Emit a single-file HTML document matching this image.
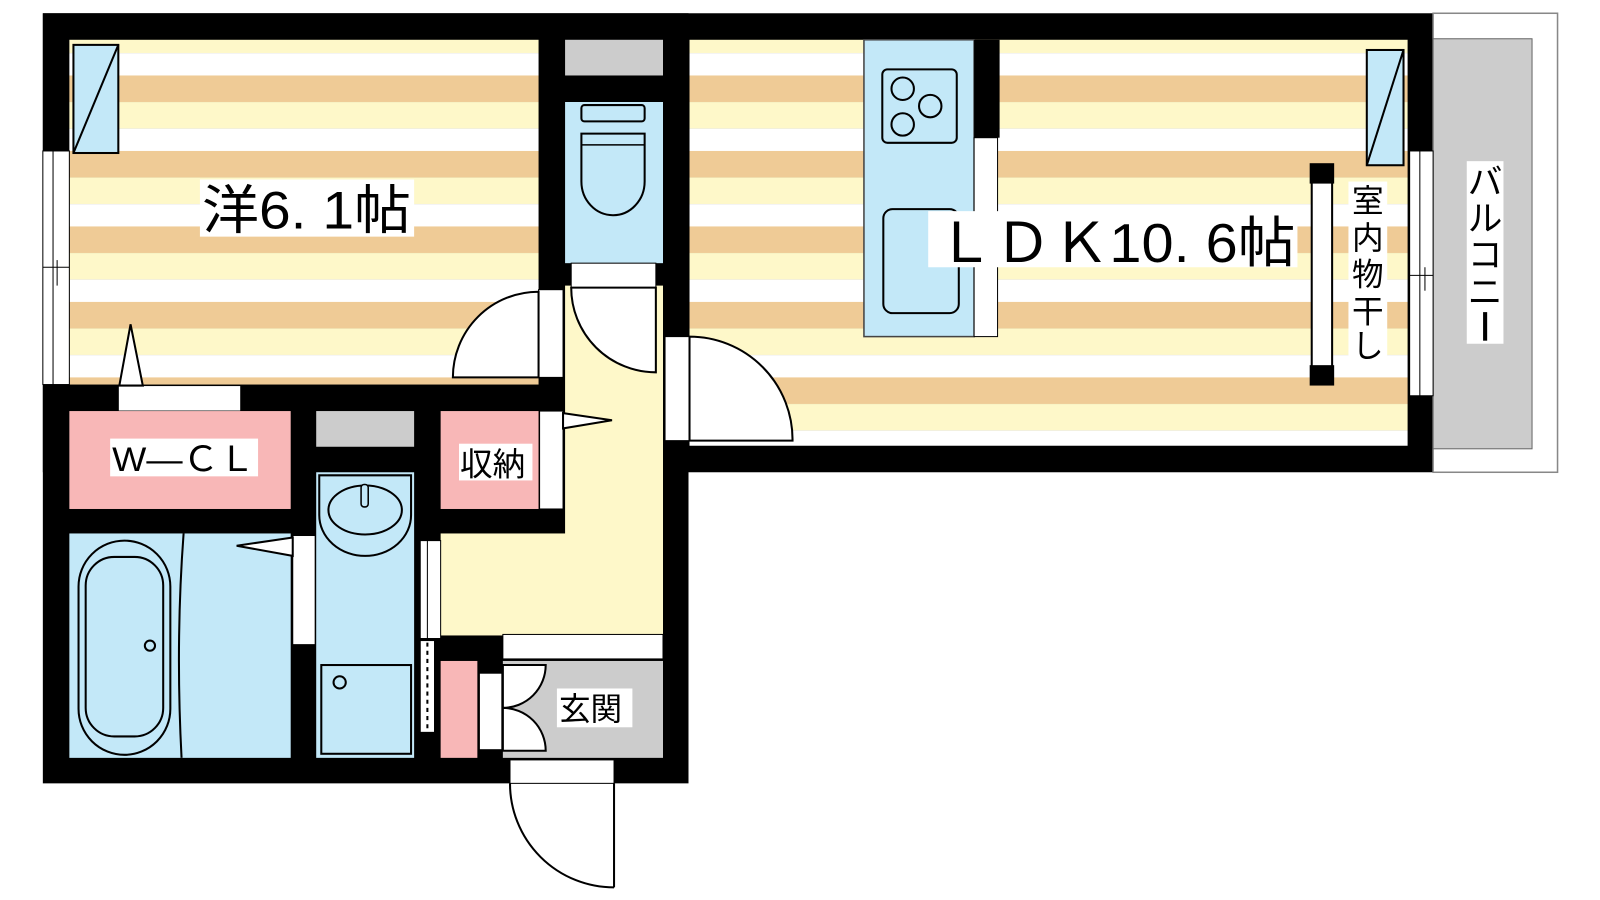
<!DOCTYPE html>
<html><head><meta charset="utf-8"><style>
html,body{margin:0;padding:0;background:#fff;width:1600px;height:900px;overflow:hidden}
svg{display:block}
text{font-family:"Liberation Sans","Noto Sans CJK JP",sans-serif;fill:#000}
</style></head><body>
<svg width="1600" height="900" viewBox="0 0 1600 900" xmlns="http://www.w3.org/2000/svg">
<defs>
<pattern id="st" x="0" y="0" width="10" height="74" patternUnits="userSpaceOnUse">
<rect x="0" y="0" width="10" height="26" fill="#efcb96"/>
<rect x="0" y="26" width="10" height="26" fill="#fef8c9"/>
<rect x="0" y="52" width="10" height="22" fill="#ffffff"/>
</pattern>
</defs>
<g transform="scale(1.02)">
<rect x="42" y="13" width="633" height="755" fill="#000"/>
<rect x="42" y="13" width="1363" height="450" fill="#000"/>
<rect x="1405" y="13" width="122" height="450" fill="#fff" stroke="#888" stroke-width="1.5"/>
<rect x="1405" y="38" width="97" height="402" fill="#cccccc" stroke="#666" stroke-width="1"/>
<rect x="1438" y="158" width="36" height="179" fill="#fff"/>
<text x="1456" y="190" font-size="34" text-anchor="middle">バ</text>
<text x="1456" y="226" font-size="34" text-anchor="middle">ル</text>
<text x="1456" y="262" font-size="34" text-anchor="middle">コ</text>
<text x="1456" y="298" font-size="34" text-anchor="middle">ニ</text>
<rect x="1454" y="306" width="4" height="28" fill="#000"/>
<rect x="68" y="39" width="460" height="338" fill="url(#st)"/>
<rect x="72" y="44" width="44" height="106" fill="#c3e8f8" stroke="#000" stroke-width="2"/>
<line x1="116" y1="44" x2="72" y2="150" stroke="#000" stroke-width="2"/>
<rect x="42" y="148" width="26" height="229" fill="#fff" stroke="#000" stroke-width="1"/>
<line x1="52" y1="148" x2="52" y2="377" stroke="#000" stroke-width="1"/>
<line x1="42" y1="262" x2="68" y2="262" stroke="#000" stroke-width="1"/>
<line x1="56" y1="255" x2="56" y2="280" stroke="#000" stroke-width="1"/>
<rect x="196" y="176" width="210" height="56" fill="#fff"/>
<text x="198" y="224" font-size="52" textLength="205" lengthAdjust="spacingAndGlyphs">洋6. 1帖</text>
<rect x="528" y="284" width="24" height="86" fill="#fff" stroke="#000" stroke-width="1"/>
<path d="M444 370 A84 84 0 0 1 528 286 L528 370 Z" fill="#fff" stroke="#000" stroke-width="2"/>
<rect x="116" y="378" width="120" height="25" fill="#fff" stroke="#000" stroke-width="1"/>
<polygon points="117,378 128,318 140,378" fill="#fff" stroke="#000" stroke-width="2"/>
<rect x="554" y="39" width="96" height="35" fill="#cccccc"/>
<rect x="554" y="100" width="96" height="158" fill="#c3e8f8"/>
<rect x="570" y="103" width="62" height="16" rx="3" fill="#c3e8f8" stroke="#000" stroke-width="2"/>
<path d="M570 131 L632 131 L632 178 A31 33 0 0 1 570 178 Z" fill="#c3e8f8" stroke="#000" stroke-width="2"/>
<line x1="570" y1="142" x2="632" y2="142" stroke="#000" stroke-width="1.5"/>
<rect x="554" y="280" width="96" height="343" fill="#fef8c9"/>
<rect x="432" y="523" width="218" height="100" fill="#fef8c9"/>
<rect x="560" y="258" width="83" height="24" fill="#fff" stroke="#000" stroke-width="1"/>
<path d="M560 282 A83 83 0 0 0 643 365 L643 282 Z" fill="#fff" stroke="#000" stroke-width="2"/>
<rect x="676" y="39" width="704" height="398" fill="url(#st)"/>
<rect x="847" y="39" width="108" height="291" fill="#c3e8f8" stroke="#444" stroke-width="1.5"/>
<rect x="955" y="39" width="25" height="96" fill="#000"/>
<rect x="955" y="135" width="23" height="195" fill="#fff" stroke="#000" stroke-width="1"/>
<rect x="865" y="68" width="73" height="72" rx="5" fill="#c3e8f8" stroke="#000" stroke-width="2"/>
<circle cx="885" cy="87" r="11" fill="none" stroke="#000" stroke-width="2"/>
<circle cx="912" cy="104" r="11" fill="none" stroke="#000" stroke-width="2"/>
<circle cx="885" cy="122" r="11" fill="none" stroke="#000" stroke-width="2"/>
<rect x="866" y="205" width="74" height="102" rx="9" fill="#c3e8f8" stroke="#000" stroke-width="2"/>
<rect x="910" y="207" width="362" height="55" fill="#fff"/>
<text x="918" y="257" font-size="54" textLength="352" lengthAdjust="spacingAndGlyphs">ＬＤＫ10. 6帖</text>
<rect x="1340" y="49" width="36" height="113" fill="#c3e8f8" stroke="#000" stroke-width="2"/>
<line x1="1376" y1="49" x2="1340" y2="162" stroke="#000" stroke-width="2"/>
<rect x="1286" y="162" width="20" height="214" fill="#fff" stroke="#000" stroke-width="2"/>
<rect x="1284" y="160" width="24" height="20" fill="#000"/>
<rect x="1284" y="358" width="24" height="20" fill="#000"/>
<rect x="1322" y="178" width="38" height="180" fill="#fff"/>
<text x="1341" y="208" font-size="31" text-anchor="middle">室</text>
<text x="1341" y="244" font-size="31" text-anchor="middle">内</text>
<text x="1341" y="280" font-size="31" text-anchor="middle">物</text>
<text x="1341" y="316" font-size="31" text-anchor="middle">干</text>
<text x="1341" y="350" font-size="31" text-anchor="middle">し</text>
<rect x="1382" y="148" width="23" height="240" fill="#fff" stroke="#000" stroke-width="1"/>
<line x1="1392" y1="148" x2="1392" y2="388" stroke="#000" stroke-width="1"/>
<line x1="1382" y1="270" x2="1405" y2="270" stroke="#000" stroke-width="1"/>
<line x1="1397" y1="262" x2="1397" y2="285" stroke="#000" stroke-width="1"/>
<rect x="652" y="330" width="24" height="102" fill="#fff" stroke="#000" stroke-width="1"/>
<path d="M676 330 A101 101 0 0 1 777 432 L676 432 Z" fill="#fff" stroke="#000" stroke-width="2"/>
<rect x="68" y="403" width="217" height="96" fill="#f8b7b7"/>
<rect x="108" y="430" width="145" height="37" fill="#fff"/>
<text x="110" y="462" font-size="34" textLength="140" lengthAdjust="spacingAndGlyphs">W―ＣＬ</text>
<rect x="310" y="403" width="96" height="35" fill="#cccccc"/>
<rect x="432" y="403" width="96" height="96" fill="#f8b7b7"/>
<rect x="450" y="435" width="72" height="36" fill="#fff"/>
<text x="451" y="466" font-size="32">収納</text>
<rect x="529" y="403" width="23" height="96" fill="#fff" stroke="#000" stroke-width="1"/>
<polygon points="552,405 600,412 552,420" fill="#fff" stroke="#000" stroke-width="2"/>
<rect x="68" y="523" width="217" height="220" fill="#c3e8f8"/>
<rect x="77" y="530" width="90" height="210" rx="45" fill="none" stroke="#000" stroke-width="2"/>
<rect x="84" y="546" width="76" height="176" rx="28" fill="none" stroke="#000" stroke-width="2"/>
<circle cx="147" cy="633" r="5" fill="none" stroke="#000" stroke-width="2"/>
<path d="M180 523 Q172 630 178 743" fill="none" stroke="#000" stroke-width="2"/>
<rect x="287" y="525" width="22" height="107" fill="#fff" stroke="#000" stroke-width="1"/>
<polygon points="287,527 232,535 287,545" fill="#fff" stroke="#000" stroke-width="2"/>
<rect x="310" y="463" width="96" height="280" fill="#c3e8f8"/>
<path d="M313 466 L403 466 L403 505 A45 40 0 0 1 313 505 Z" fill="#c3e8f8" stroke="#000" stroke-width="2"/>
<ellipse cx="358" cy="500" rx="36" ry="24" fill="none" stroke="#000" stroke-width="2"/>
<rect x="354" y="475" width="7" height="22" rx="3" fill="#c3e8f8" stroke="#000" stroke-width="1.5"/>
<rect x="315" y="652" width="88" height="87" fill="#c3e8f8" stroke="#000" stroke-width="2"/>
<circle cx="333" cy="669" r="6" fill="none" stroke="#000" stroke-width="2"/>
<rect x="412" y="530" width="20" height="96" fill="#fff" stroke="#000" stroke-width="1"/>
<line x1="419" y1="530" x2="419" y2="626" stroke="#000" stroke-width="1"/>
<rect x="412" y="628" width="14" height="90" fill="#fff" stroke="#000" stroke-width="1"/>
<line x1="419" y1="630" x2="419" y2="716" stroke="#000" stroke-width="2" stroke-dasharray="4 4"/>
<rect x="432" y="648" width="36" height="95" fill="#f8b7b7"/>
<rect x="493" y="622" width="157" height="24" fill="#fff" stroke="#000" stroke-width="1"/>
<rect x="493" y="648" width="157" height="95" fill="#cccccc"/>
<rect x="470" y="660" width="22" height="75" fill="#fff" stroke="#000" stroke-width="1"/>
<path d="M493 652 L535 652 A42 42 0 0 1 493 694 Z" fill="#fff" stroke="#000" stroke-width="2"/>
<path d="M493 694 A42 42 0 0 1 535 736 L493 736 Z" fill="#fff" stroke="#000" stroke-width="2"/>
<rect x="546" y="675" width="74" height="38" fill="#fff"/>
<text x="548" y="706" font-size="31">玄関</text>
<rect x="500" y="745" width="102" height="23" fill="#fff" stroke="#000" stroke-width="1"/>
<path d="M500 768 A102 102 0 0 0 602 870" fill="none" stroke="#000" stroke-width="2"/>
<line x1="602" y1="768" x2="602" y2="870" stroke="#000" stroke-width="2"/>
</g>
</svg>
</body></html>
